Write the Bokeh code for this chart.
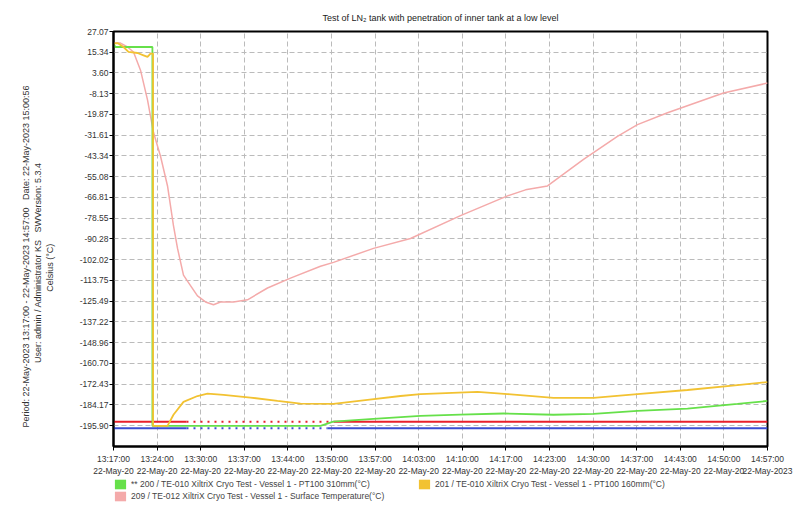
from bokeh.plotting import figure
from bokeh.layouts import column
from bokeh.models import (Range1d, FixedTicker, Legend, LegendItem, Title)
from bokeh.embed import file_html
from bokeh.resources import INLINE

# ---- data (time = minutes after 13:17:00, 22-May-2023; values in °C) ----
x_ticks = [i * 100 / 15 for i in range(16)]
x_tick_times = ["13:17:00", "13:24:00", "13:30:00", "13:37:00", "13:44:00", "13:50:00",
                "13:57:00", "14:03:00", "14:10:00", "14:17:00", "14:23:00", "14:30:00",
                "14:37:00", "14:43:00", "14:50:00", "14:57:00"]
x_tick_dates = ["22-May-20"] * 15 + ["22-May-2023"]

y_ticks = [27.07, 15.34, 3.60, -8.13, -19.87, -31.61, -43.34, -55.08, -66.81, -78.55,
           -90.28, -102.02, -113.75, -125.49, -137.22, -148.96, -160.70, -172.43,
           -184.17, -195.90]

t200 = [0, 0.3, 5.66, 5.95, 5.95, 31.65, 33.6, 39.76, 46.94, 53.0, 59.63, 67.28,
        73.39, 80.12, 87.77, 95.41, 100]
v200 = [20.0, 18.3, 18.3, 18.3, -196.0, -196.0, -193.6, -192.0, -190.3, -189.6, -189.0,
        -189.7, -189.2, -187.5, -186.2, -183.6, -181.9]

t201 = [0, 0.61, 1.53, 2.29, 3.67, 4.59, 5.2, 5.66, 6.05, 6.05, 8.26, 9.17, 10.7, 12.84,
        14.37, 16.82, 20.95, 25.08, 28.59, 33.64, 38.84, 43.88, 46.94, 55.66, 60.24,
        67.28, 73.39, 80.12, 87.77, 95.41, 100]
v201 = [20.35, 20.5, 18.3, 15.5, 14.9, 13.6, 12.7, 14.6, 14.6, -196.0, -196.0, -189.7,
        -182.4, -179.1, -177.8, -178.5, -180.0, -181.9, -183.4, -183.6, -181.3, -179.1,
        -178.0, -176.8, -178.0, -180.2, -180.2, -178.0, -175.7, -172.9, -171.2]

t209 = [0, 1.07, 2.14, 3.06, 4.13, 5.2, 6.12, 7.19, 8.26, 9.17, 9.79, 10.7, 11.31, 12.84,
        14.07, 15.29, 16.36, 18.35, 20.49, 23.55, 27.06, 31.65, 33.64, 39.76, 45.41,
        53.06, 60.24, 63.0, 66.36, 71.87, 77.06, 80.12, 84.71, 93.27, 100]
v209 = [20.5, 20.5, 18.3, 15.5, 5.2, -11.6, -30.1, -43.5, -60.3, -82.7, -95.6, -110.7,
        -114.1, -122.5, -125.9, -127.5, -125.9, -125.9, -124.7, -118.0, -112.4, -105.7,
        -103.5, -95.6, -90.0, -77.1, -65.9, -62.5, -60.3, -45.2, -32.3, -25.6, -18.9,
        -7.7, -2.1]

red_limit = -193.6
blue_limit = -197.4
red_solid = [(0, 11.16), (33.64, 100)]
red_dotted = [(11.16, 33.64)]
blue_solid = [(0, 11.16), (32.7, 100)]
blue_dotted = [(11.16, 32.7)]

labels = {
    "200": "** 200 / TE-010 XiltriX Cryo Test - Vessel 1 - PT100 310mm(°C)",
    "201": "201 / TE-010 XiltriX Cryo Test - Vessel 1 - PT100 160mm(°C)",
    "209": "209 / TE-012 XiltriX Cryo Test - Vessel 1 - Surface Temperature(°C)",
}

C200, C201, C209 = "#66e04a", "#f2c232", "#f4aaaa"
CRED, CBLUE = "#e8202c", "#3b4ed2"
FONT = "Liberation Sans"
FS = "8.5px"
NAN = float("nan")

p = figure(width=804, height=478, output_backend="svg", toolbar_location=None,
           x_range=Range1d(0, 100), y_range=Range1d(-207.66, 27.07),
           min_border_left=113, min_border_right=37, min_border_top=31,
           min_border_bottom=28)
p.background_fill_color = "white"
p.border_fill_color = "white"
p.outline_line_color = "black"
p.outline_line_width = 2

p.title = Title(text="Test of LN\u2082 tank with penetration of inner tank at a low level",
                align="center", text_font=FONT, text_font_size="9px",
                text_font_style="normal", text_color="#222222", standoff=18)

# axes
p.xaxis.ticker = FixedTicker(ticks=x_ticks)
p.xaxis.major_label_overrides = {x: f"{a}\n{b}" for x, a, b in zip(x_ticks, x_tick_times, x_tick_dates)}
p.yaxis.ticker = FixedTicker(ticks=y_ticks)
p.yaxis.major_label_overrides = {y: f"{y:.2f}" for y in y_ticks}
for ax in (p.xaxis, p.yaxis):
    ax.axis_line_color = "black"
    ax.axis_line_width = 2
    ax.major_tick_line_color = "black"
    ax.major_tick_in = 0
    ax.major_tick_out = 4
    ax.minor_tick_line_color = None
    ax.major_label_text_font = FONT
    ax.major_label_text_font_size = FS
    ax.major_label_text_color = "#333333"
p.xaxis.major_label_standoff = 3
p.yaxis.major_label_standoff = 1
nb = "\u00a0"
p.yaxis.axis_label = ("Period: 22-May-2023 13:17:00 - 22-May-2023 14:57:00" + nb * 2 + " Date: 22-May-2023 15:00:56" + nb * 14 + "\n"
                      "User: admin / Administrator KS" + nb * 2 + " SWVersion: 5.3.4" + nb * 19 + "\n"
                      "Celsius (°C)" + nb * 23)
p.yaxis.axis_label_text_font = FONT
p.yaxis.axis_label_text_font_size = "9px"
p.yaxis.axis_label_text_font_style = "normal"
p.yaxis.axis_label_text_color = "#333333"
p.yaxis.axis_label_standoff = 22

p.grid.grid_line_color = "#bbbbbb"
p.grid.grid_line_dash = "5 3"
p.grid.grid_line_width = 1

# limit lines
for a, b in red_solid:
    p.line([a, b], [red_limit, red_limit], line_color=CRED, line_width=2)
for a, b in red_dotted:
    p.line([a, b], [red_limit, red_limit], line_color=CRED, line_width=2, line_dash="2 5")
for a, b in blue_solid:
    p.line([a, b], [blue_limit, blue_limit], line_color=CBLUE, line_width=2)
for a, b in blue_dotted:
    p.line([a, b], [blue_limit, blue_limit], line_color=CBLUE, line_width=2, line_dash="2 5")

# series
p.line(t209, v209, line_color=C209, line_width=1.5)
p.line(t200, v200, line_color=C200, line_width=1.8)
p.line(t201, v201, line_color=C201, line_width=1.8)

# ---- legend strip below the chart ----
lf = figure(width=804, height=30, output_backend="svg", toolbar_location=None,
            x_range=Range1d(0, 1), y_range=Range1d(0, 1),
            x_axis_type=None, y_axis_type=None,
            min_border_left=107, min_border_right=0, min_border_top=0, min_border_bottom=0)
lf.outline_line_color = None
lf.grid.visible = False
lf.background_fill_color = "white"
lf.border_fill_color = "white"

q200 = lf.quad(left=[NAN], right=[NAN], top=[NAN], bottom=[NAN], fill_color=C200, line_color=None)
q201 = lf.quad(left=[NAN], right=[NAN], top=[NAN], bottom=[NAN], fill_color=C201, line_color=None)
q209 = lf.quad(left=[NAN], right=[NAN], top=[NAN], bottom=[NAN], fill_color=C209, line_color=None)

def mk_legend(items, loc):
    lg = Legend(items=items, location=loc, orientation="vertical",
                glyph_width=14, glyph_height=12, label_height=12, spacing=0,
                label_standoff=4, padding=0, margin=0,
                label_text_font=FONT, label_text_font_size=FS,
                label_text_color="#444444", border_line_color=None,
                background_fill_alpha=0)
    lf.add_layout(lg, "center")

mk_legend([LegendItem(label=labels["200"], renderers=[q200]),
           LegendItem(label=labels["209"], renderers=[q209])], "top_left")
mk_legend([LegendItem(label=labels["201"], renderers=[q201])], (304, 18))

open("out.html", "w").write(file_html(column(p, lf, spacing=0), INLINE))
